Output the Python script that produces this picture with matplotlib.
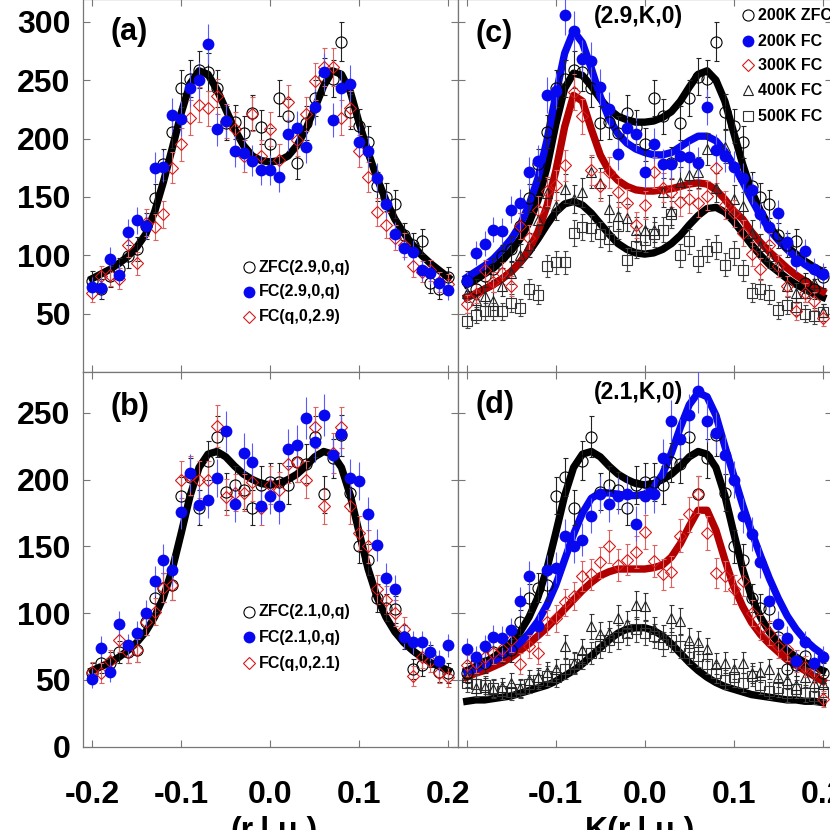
import numpy as np
import matplotlib
matplotlib.use('Agg')
import matplotlib.pyplot as plt

plt.rcParams['font.family'] = ['Liberation Sans', 'DejaVu Sans']
plt.rcParams['font.weight'] = 'bold'
plt.rcParams['axes.unicode_minus'] = False

# scan positions (r.l.u.)
q = np.round(np.linspace(-0.2, 0.2, 41), 2)

# (a) (2.9,0,q) scans
a_zfc = [78, 71, 82, 88, 99, 105, 125, 149, 178, 206, 243, 251, 259, 257, 243, 213, 214, 205, 222, 210,
         195, 235, 219, 179, 213, 235, 253, 251, 283, 223, 211, 197, 159, 150, 144, 117, 109, 112, 76, 71, 81]
a_fc = [73, 72, 97, 83, 120, 130, 125, 175, 176, 220, 217, 243, 250, 281, 208, 215, 189, 188, 181, 173,
        173, 167, 204, 209, 193, 227, 257, 216, 243, 247, 197, 189, 166, 144, 118, 106, 103, 87, 85, 76, 70]
a_fcq = [68, 82, 83, 80, 109, 93, 128, 124, 135, 175, 195, 218, 229, 226, 236, 215, 208, 185, 221, 185,
         208, 182, 231, 199, 221, 249, 261, 261, 218, 226, 189, 167, 137, 126, 115, 109, 91, 86, 87, 77, 75]
a_fit = [80, 84, 88, 93, 99, 107, 118, 137, 163, 192, 222, 247, 258, 255, 242, 225, 208, 194, 185, 181,
         180, 181, 185, 194, 208, 226, 245, 258, 255, 240, 213, 188, 166, 147, 131, 119, 109, 100, 93, 87, 81]

# (b) (2.1,0,q) scans
b_zfc = [55, 63, 63, 71, 71, 72, 93, 111, 119, 121, 188, 202, 179, 214, 232, 191, 196, 192, 179, 196,
         198, 198, 196, 213, 212, 232, 189, 216, 233, 190, 150, 140, 111, 104, 103, 82, 58, 61, 68, 56, 55]
b_fc = [51, 74, 56, 92, 76, 85, 100, 124, 140, 132, 176, 205, 181, 185, 201, 236, 182, 220, 213, 180,
        188, 180, 223, 226, 246, 228, 248, 218, 234, 201, 199, 174, 151, 126, 118, 82, 78, 78, 71, 64, 76]
b_fcq = [56, 55, 64, 80, 71, 72, 93, 101, 119, 121, 200, 203, 200, 200, 240, 187, 190, 190, 198, 179,
         196, 192, 212, 213, 200, 239, 180, 220, 239, 180, 160, 150, 118, 110, 100, 88, 53, 67, 64, 55, 52]
b_fit = [57, 60, 63, 67, 72, 78, 86, 97, 112, 133, 160, 188, 209, 219, 221, 217, 210, 204, 200, 197,
         196, 197, 200, 204, 210, 217, 221, 219, 209, 188, 160, 133, 112, 97, 86, 78, 72, 67, 63, 60, 57]

# (c) (2.9,K,0) scans at several temperatures
c_zfc = a_zfc
c_fc200 = [78, 102, 110, 122, 121, 139, 145, 171, 181, 237, 241, 306, 292, 268, 266, 244, 225, 187, 209, 204,
           171, 195, 178, 178, 185, 184, 179, 227, 190, 185, 176, 166, 156, 135, 124, 136, 111, 95, 104, 88, 84]
c_fc300 = [58, 67, 87, 77, 85, 74, 125, 115, 139, 155, 160, 177, 240, 219, 173, 159, 171, 154, 145, 126,
           143, 171, 158, 154, 146, 148, 145, 151, 175, 143, 136, 119, 101, 88, 109, 91, 74, 52, 68, 61, 46]
c_fc400 = [68, 62, 65, 61, 74, 85, 100, 109, 130, 153, 142, 157, 148, 154, 171, 162, 140, 134, 132, 122,
           122, 122, 154, 138, 163, 169, 171, 191, 158, 193, 148, 142, 119, 108, 99, 91, 74, 68, 68, 76, 51]
c_fc500 = [44, 49, 52, 52, 52, 59, 55, 71, 66, 91, 94, 94, 119, 124, 123, 118, 114, 125, 96, 108,
           113, 118, 122, 135, 100, 112, 95, 104, 107, 92, 102, 87, 68, 71, 66, 53, 57, 56, 50, 48, 51]
c_fit_zfc = [75, 79, 84, 89, 96, 104, 114, 128, 147, 175, 212, 243, 256, 254, 245, 234, 225, 219, 216, 214,
             214, 215, 218, 223, 232, 244, 255, 258, 250, 232, 205, 178, 155, 138, 125, 115, 107, 101, 95, 90, 86]
c_fit_200 = [81, 86, 91, 97, 105, 114, 126, 143, 166, 198, 237, 273, 292, 282, 260, 236, 217, 204, 196, 191,
             188, 186, 186, 188, 193, 198, 202, 202, 198, 189, 177, 163, 148, 134, 122, 113, 105, 98, 92, 87, 82]
c_fit_300 = [64, 67, 71, 75, 80, 86, 94, 105, 120, 142, 172, 210, 237, 232, 208, 186, 172, 164, 159, 156,
             155, 155, 156, 157, 159, 161, 162, 161, 156, 148, 138, 131, 120, 111, 103, 96, 89, 83, 78, 73, 69]
c_fit_500 = [64, 67, 71, 75, 80, 86, 94, 103, 114, 126, 137, 144, 146, 143, 136, 127, 118, 110, 105, 102,
             101, 102, 105, 110, 117, 126, 134, 140, 141, 137, 129, 119, 109, 100, 92, 86, 80, 75, 71, 67, 64]

# (d) (2.1,K,0) scans at several temperatures
d_zfc = b_zfc
d_fc200 = [73, 67, 75, 82, 81, 87, 109, 128, 90, 132, 134, 158, 150, 155, 173, 189, 182, 188, 189, 167,
           188, 189, 216, 244, 230, 248, 266, 244, 235, 218, 200, 173, 159, 138, 109, 92, 81, 64, 78, 63, 67]
d_fc300 = [61, 63, 67, 70, 73, 80, 62, 75, 70, 93, 96, 108, 113, 128, 129, 138, 150, 136, 140, 146,
           161, 139, 129, 131, 158, 174, 189, 160, 130, 128, 118, 124, 100, 89, 85, 75, 73, 64, 60, 55, 36]
d_fc400 = [52, 44, 45, 43, 45, 48, 44, 50, 52, 56, 58, 75, 63, 72, 90, 84, 85, 96, 92, 106,
           105, 88, 82, 96, 94, 80, 78, 73, 62, 63, 58, 63, 55, 56, 58, 52, 50, 46, 52, 48, 47]
d_fc500 = [48, 47, 46, 44, 42, 41, 43, 47, 50, 53, 52, 58, 62, 66, 70, 75, 80, 82, 85, 88,
           85, 83, 77, 80, 75, 70, 68, 62, 55, 50, 52, 48, 53, 46, 42, 44, 40, 43, 40, 38, 41]
d_fit_zfc = b_fit
d_fit_200 = [56, 58, 61, 64, 68, 72, 78, 85, 94, 106, 121, 140, 159, 175, 186, 190, 190, 189, 188, 188,
             189, 194, 204, 220, 239, 256, 265, 262, 248, 225, 203, 181, 161, 143, 126, 111, 98, 88, 80, 74, 69]
d_fit_300 = [52, 55, 57, 60, 63, 67, 72, 77, 83, 89, 96, 103, 110, 117, 123, 128, 131, 133, 133, 133,
             133, 134, 136, 142, 152, 165, 177, 177, 162, 140, 120, 105, 93, 84, 77, 71, 65, 61, 57, 53, 49]
d_fit_500 = [34, 35, 35, 36, 37, 38, 40, 42, 44, 46, 49, 53, 57, 62, 68, 74, 80, 85, 88, 89,
             89, 87, 83, 77, 70, 63, 57, 52, 48, 45, 43, 41, 39, 38, 37, 36, 35, 35, 34, 34, 33]

xtick_labels = ['-0.2', '-0.1', '0.0', '0.1', '0.2']

BLUE = '#0808f0'
RED = '#d41a1a'
DRED = '#b20000'

styles = {
    'zfc': dict(marker='o', mfc='none', mec='black', ms=8, mew=0.8, ecolor='#222222'),
    'fc': dict(marker='o', mfc=BLUE, mec=BLUE, ms=8.5, mew=0, ecolor='#5a5aff'),
    'dia': dict(marker='D', mfc='none', mec=RED, ms=6, mew=0.8, ecolor='#e06060'),
    'tri': dict(marker='^', mfc='none', mec='#222222', ms=7.5, mew=0.8, ecolor='#333333'),
    'sq': dict(marker='s', mfc='none', mec='#333333', ms=7, mew=0.8, ecolor='#444444'),
}


def points(ax, y, key, z=3):
    st = styles[key]
    y = np.asarray(y, float)
    ax.errorbar(q, y, yerr=np.sqrt(y), fmt=st['marker'], ms=st['ms'], mfc=st['mfc'],
                mec=st['mec'], mew=st['mew'], ecolor=st['ecolor'], elinewidth=0.8,
                capsize=1.8, capthick=0.8, zorder=z)


def fit(ax, y, color):
    ax.plot(q, y, color=color, lw=5.3, solid_joinstyle='round', zorder=2)


def legend(ax, entries, xm, xt, ys):
    for (key, label), yy in zip(entries, ys):
        st = styles[key]
        ax.plot([xm], [yy], transform=ax.transAxes, clip_on=False, ls='none',
                marker=st['marker'], ms=st['ms'], mfc=st['mfc'], mec=st['mec'], mew=st['mew'])
        ax.text(xt, yy, label, transform=ax.transAxes, fontsize=11.5, fontweight='bold',
                va='center', ha='left', clip_on=False)


fig = plt.figure(figsize=(8.3, 8.3), dpi=100)
W = 374.5 / 830
axa = fig.add_axes([83 / 830, 0.5518, W, 0.4494])
axc = fig.add_axes([457.5 / 830, 0.5518, W, 0.4494])
axb = fig.add_axes([83 / 830, 0.1004, W, 0.4514])
axd = fig.add_axes([457.5 / 830, 0.1004, W, 0.4514])

for ax in (axa, axb, axc, axd):
    ax.set_xlim(-0.2104, 0.2104)
    ax.set_xticks([-0.2, -0.1, 0.0, 0.1, 0.2])
    ax.set_xticklabels(xtick_labels)
    for s in ax.spines.values():
        s.set_color('#777777')
        s.set_linewidth(0.9)
    ax.tick_params(direction='in', length=5, width=0.8, color='#777777', top=True, right=True,
                   labelsize=23)
    ax.tick_params(axis='x', pad=24)
    ax.tick_params(axis='y', pad=9)

# the left panel's "0.2" takes the place of the right panel's "-0.2"
axd.set_xticklabels([''] + xtick_labels[1:])

for ax in (axa, axc):
    ax.set_ylim(0, 319.5)
    ax.set_yticks([50, 100, 150, 200, 250, 300])
    ax.tick_params(labelbottom=False)
for ax in (axb, axd):
    ax.set_ylim(0, 280.5)
    ax.set_yticks([0, 50, 100, 150, 200, 250])
for ax in (axc, axd):
    ax.tick_params(labelleft=False)

# (a)
fit(axa, a_fit, 'black')
points(axa, a_zfc, 'zfc')
points(axa, a_fcq, 'dia')
points(axa, a_fc, 'fc')
legend(axa, [('zfc', 'ZFC(2.9,0,q)'), ('fc', 'FC(2.9,0,q)'), ('dia', 'FC(q,0,2.9)')],
       0.443, 0.469, [0.2815, 0.2145, 0.1475])
axa.text(0.123, 0.911, '(a)', transform=axa.transAxes, fontsize=22, ha='center', va='center')

# (b)
fit(axb, b_fit, 'black')
points(axb, b_zfc, 'zfc')
points(axb, b_fcq, 'dia')
points(axb, b_fc, 'fc')
legend(axb, [('zfc', 'ZFC(2.1,0,q)'), ('fc', 'FC(2.1,0,q)'), ('dia', 'FC(q,0,2.1)')],
       0.443, 0.469, [0.3595, 0.2927, 0.2233])
axb.text(0.126, 0.907, '(b)', transform=axb.transAxes, fontsize=22, ha='center', va='center')

# (c)
points(axc, c_fc500, 'sq')
points(axc, c_fc400, 'tri')
points(axc, c_zfc, 'zfc')
points(axc, c_fc300, 'dia')
points(axc, c_fc200, 'fc')
fit(axc, c_fit_500, 'black')
fit(axc, c_fit_300, DRED)
fit(axc, c_fit_zfc, 'black')
fit(axc, c_fit_200, BLUE)
legend(axc, [('zfc', '200K ZFC'), ('fc', '200K FC'), ('dia', '300K FC'),
             ('tri', '400K FC'), ('sq', '500K FC')],
       0.776, 0.802, [0.957, 0.887, 0.823, 0.756, 0.686])
axc.text(0.098, 0.905, '(c)', transform=axc.transAxes, fontsize=22, ha='center', va='center')
axc.text(0.482, 0.952, '(2.9,K,0)', transform=axc.transAxes, fontsize=16.5, ha='center', va='center')

# (d)
points(axd, d_fc500, 'sq')
points(axd, d_fc400, 'tri')
points(axd, d_zfc, 'zfc')
points(axd, d_fc300, 'dia')
points(axd, d_fc200, 'fc')
fit(axd, d_fit_500, 'black')
fit(axd, d_fit_300, DRED)
fit(axd, d_fit_zfc, 'black')
fit(axd, d_fit_200, BLUE)
axd.text(0.100, 0.912, '(d)', transform=axd.transAxes, fontsize=22, ha='center', va='center')
axd.text(0.482, 0.944, '(2.1,K,0)', transform=axd.transAxes, fontsize=16.5, ha='center', va='center')

fig.text(274 / 830, 0.0169, '(r.l.u.)', fontsize=23, ha='center', va='top')
fig.text(640 / 830, 0.0169, 'K(r.l.u.)', fontsize=23, ha='center', va='top')

fig.savefig('out.png', dpi=100)
